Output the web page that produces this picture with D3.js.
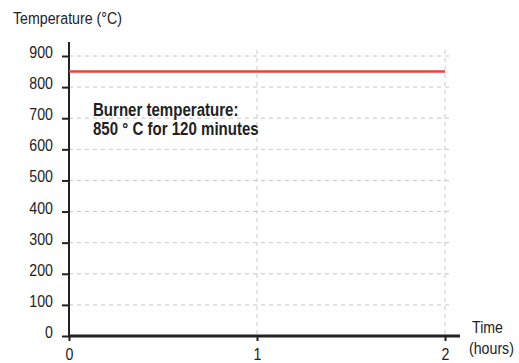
<!DOCTYPE html>
<html><head><meta charset="utf-8">
<script src="https://cdn.jsdelivr.net/npm/d3@7"></script>
<style>
body{margin:0;background:#fff;}
text{font-family:"Liberation Sans","Arial",sans-serif;fill:#222;}
</style></head>
<body>
<svg id="c" width="519" height="363"></svg>
<script>
const timeTicks = [0, 1, 2];
const tempTicks = [0, 100, 200, 300, 400, 500, 600, 700, 800, 900];
const seriesTime = [0, 2];
const seriesTemp = [850, 850];
const yTitle = "Temperature (°C)";
const xTitle = ["Time", "(hours)"];
const note = ["Burner temperature:", "850 ° C for 120 minutes"];

const SX = 0.86, FS = 16.5;
const svg = d3.select("#c");
const x = d3.scaleLinear().domain([0, 2]).range([69, 445]);
const y = d3.scaleLinear().domain([0, 900]).range([336, 56]);

function label(px, py, str, opts = {}) {
  return svg.append("text")
    .attr("transform", `translate(${px},${py}) scale(${SX},1)`)
    .attr("font-size", opts.size || FS)
    .attr("font-weight", opts.bold ? "bold" : null)
    .attr("text-anchor", opts.anchor || "start")
    .text(str);
}

// horizontal grid
svg.append("g").selectAll("line").data(tempTicks.filter(d => d > 0)).join("line")
  .attr("x1", x(0)).attr("x2", x(2) + 8)
  .attr("y1", d => y(d)).attr("y2", d => y(d))
  .attr("stroke", "#c8c8c8").attr("stroke-width", 1).attr("stroke-dasharray", "4,4");
// vertical grid
svg.append("g").selectAll("line").data(timeTicks.filter(d => d > 0)).join("line")
  .attr("x1", d => x(d)).attr("x2", d => x(d))
  .attr("y1", 50).attr("y2", y(0))
  .attr("stroke", "#c8c8c8").attr("stroke-width", 1).attr("stroke-dasharray", "4,4");

// y axis
const yAxis = svg.append("g").attr("transform", `translate(${x(0)},0)`)
  .call(d3.axisLeft(y).tickValues(tempTicks).tickSize(7).tickPadding(9));
yAxis.select(".domain").remove();
yAxis.selectAll(".tick line").attr("stroke", "#222").attr("stroke-width", 2);
yAxis.selectAll(".tick text")
  .attr("x", null).attr("dy", null)
  .attr("transform", `translate(-16,1.5) scale(${SX},1)`)
  .attr("font-size", FS).attr("font-family", null).style("fill", "#222");
svg.append("line").attr("x1", x(0)).attr("x2", x(0)).attr("y1", 42).attr("y2", y(0))
  .attr("stroke", "#222").attr("stroke-width", 2);

// x axis
const xAxis = svg.append("g").attr("transform", `translate(0,${y(0)})`)
  .call(d3.axisBottom(x).tickValues(timeTicks).tickFormat(d3.format("d")).tickSize(5).tickPadding(6));
xAxis.select(".domain").remove();
xAxis.selectAll(".tick line").attr("stroke", "#222").attr("stroke-width", 2);
xAxis.selectAll(".tick text")
  .attr("y", null).attr("dy", null)
  .attr("transform", `translate(0,24) scale(${SX},1)`)
  .attr("font-size", FS).attr("font-family", null).style("fill", "#222");
svg.append("line").attr("x1", x(0) - 1).attr("x2", 460).attr("y1", y(0)).attr("y2", y(0))
  .attr("stroke", "#222").attr("stroke-width", 3);

// series
svg.append("path").datum(seriesTime.map((t, i) => [t, seriesTemp[i]]))
  .attr("d", d3.line().x(d => x(d[0])).y(d => y(d[1])))
  .attr("fill", "none").attr("stroke", "#e8423a").attr("stroke-width", 2.5);

// titles
label(13, 24, yTitle);
label(472, 333, xTitle[0]);
label(469, 354, xTitle[1]);

// annotation
label(93, 116, note[0], {bold: true, size: 17.5});
label(93, 135, note[1], {bold: true, size: 17.5});
</script>
</body></html>
